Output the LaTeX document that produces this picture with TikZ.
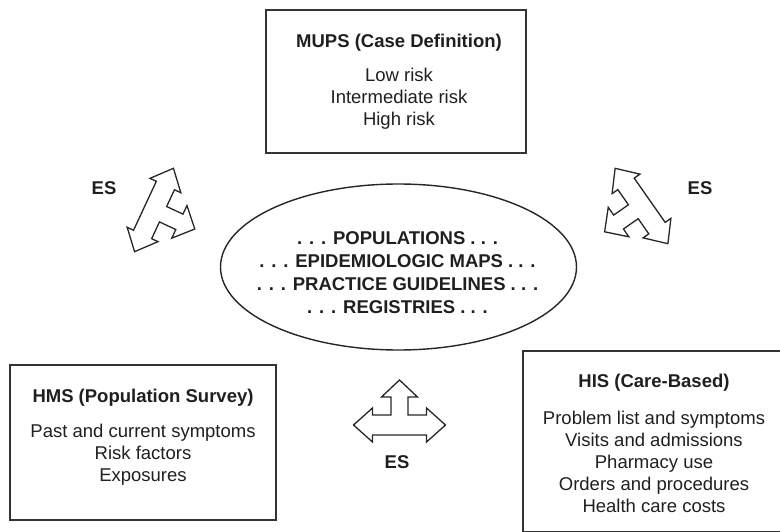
\documentclass[tikz,border=0pt]{standalone}
\usepackage{fontspec}
\setmainfont{Liberation Sans}
\usetikzlibrary{shapes.geometric}
\usetikzlibrary{positioning}
\newcommand*{\esarrow}[2]{%
  \draw [esshape, shift={(#1)}, rotate=#2]
    (-46,0) -- (-27,-17) -- (-27,-10) -- (27,-10) -- (27,-17) -- (46,0)
    -- (27,17) -- (27,10) -- (8.5,10) -- (8.5,28) -- (18,28) -- (0,45)
    -- (-18,28) -- (-8.5,28) -- (-8.5,10) -- (-27,10) -- (-27,17) -- cycle;
}

\begin{document}
\begin{tikzpicture}[x=1pt, y=1pt,
    every node/.append style = {font=\fontsize{18.5}{22}\selectfont, text=black!88},
    panel/.style = {draw=black!80, line width=1.5pt, inner sep=0pt},
    paneltext/.style = {align=center, inner sep=0pt},
    esshape/.style = {draw=black!85, line width=1.3pt, line join=miter},
    eslabel/.style = {font=\fontsize{18.5}{22}\selectfont\bfseries}]
		\useasboundingbox (0,0) rectangle (780,531);
		\node[panel, minimum width=260, minimum height=143] (mups) at (396,449.5) {};
		\node[panel, minimum width=266, minimum height=155] (hms) at (143,88.5) {};
		\node[panel, minimum width=262, minimum height=181] (his) at (654,89.5) {};
		\node[ellipse, draw=black!85, line width=1.4pt, minimum width=356, minimum height=166] (pop) at (398.5,264) {};
		\node[paneltext] (mupstxt) at (399,449.5) {%
			\textbf{MUPS (Case Definition)}\\[12pt]
			Low risk\\ Intermediate risk\\ High risk};
		\node[paneltext] (hmstxt) at (143,94) {%
			\textbf{HMS (Population Survey)}\\[13pt]
			Past and current symptoms\\ Risk factors\\ Exposures};
		\node[paneltext] (histxt) at (654,88) {%
			\textbf{HIS (Care-Based)}\\[15pt]
			Problem list and symptoms\\ Visits and admissions\\ Pharmacy use\\
			Orders and procedures\\ Health care costs};
		\node[paneltext, font=\fontsize{18.5}{23}\selectfont\bfseries] (poptxt) at (397.5,258) {%
			. . . POPULATIONS . . .\\ . . . EPIDEMIOLOGIC MAPS . . .\\
			. . . PRACTICE GUIDELINES . . .\\ . . . REGISTRIES . . .};
		\coordinate (esl) at (154,321);
		\coordinate (esr) at (641.5,325);
		\coordinate (esb) at (399.5,106);
		\esarrow{esl}{-115}
		\esarrow{esr}{125}
		\esarrow{esb}{0}
		\node[eslabel] (esltxt) at (104,343) {ES};
		\node[eslabel] (esrtxt) at (700,343) {ES};
		\node[eslabel] (esbtxt) at (397,69) {ES};
\end{tikzpicture}
\end{document}
